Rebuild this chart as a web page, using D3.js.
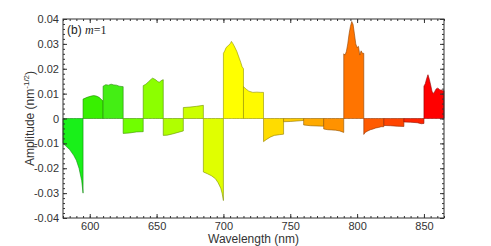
<!DOCTYPE html>
<html>
<head>
<meta charset="utf-8">
<script src="https://cdn.jsdelivr.net/npm/d3@7"></script>
<style>
  body { margin: 0; background: #fff; }
  svg { display: block; }
  .tick text { font-family: "Liberation Sans", Arial, sans-serif; font-size: 11px; fill: #333; }
  .tick line { stroke: #333; }
</style>
</head>
<body>
<svg id="chart" width="491" height="246"></svg>
<script>
'use strict';

// 15 nm wide bins, start wavelength of each one
var binStarts = [580, 595, 610, 625, 640, 655, 670, 685, 700, 715, 730, 745, 760, 775, 790, 805, 820, 835, 850];
var binWidth = 15;

var binColors = ["#19f019", "#38f000", "#44ee14", "#70ff00", "#8cff00", "#b0ff00", "#ccff00", "#e0ff00",
    "#ffff00", "#fffa00", "#ffdc00", "#ffcc00", "#ffaa00", "#ff9200", "#ff7400", "#ff5a00", "#ff4400", "#ff2200", "#ff0000"];

// amplitude samples inside each bin: [wavelength nm, amplitude]
var samples = [
    [[580, -0.0100], [582, -0.0110], [585, -0.0125], [588, -0.0148], [590, -0.0168], [592, -0.0200], [594, -0.0250], [595, -0.0300]],
    [[595, 0.0078], [598, 0.0085], [601, 0.0090], [603, 0.0092], [605, 0.0090], [607, 0.0085], [609, 0.0075], [610, 0.0070]],
    [[610, 0.0130], [612, 0.0136], [614, 0.0134], [616, 0.0138], [618, 0.0135], [620, 0.0134], [622, 0.0130], [625, 0.0128]],
    [[625, -0.0060], [630, -0.0058], [635, -0.0054], [640, -0.0053]],
    [[640, 0.0132], [642, 0.0138], [644, 0.0148], [646, 0.0158], [647, 0.0162], [649, 0.0157], [651, 0.0148], [652, 0.0146], [654, 0.0154], [655, 0.0156]],
    [[655, -0.0068], [658, -0.0067], [662, -0.0062], [666, -0.0056], [670, -0.0050]],
    [[670, 0.0044], [675, 0.0046], [680, 0.0049], [685, 0.0053]],
    [[685, -0.0215], [688, -0.0222], [691, -0.0230], [694, -0.0242], [696, -0.0258], [698, -0.0280], [699, -0.0300], [700, -0.0330]],
    [[700, 0.0262], [701, 0.0272], [702, 0.0285], [704, 0.0295], [705, 0.0300], [706, 0.0310], [707, 0.0302], [708, 0.0292], [710, 0.0270], [712, 0.0240], [713, 0.0225], [714, 0.0208], [715, 0.0200]],
    [[715, 0.0128], [717, 0.0118], [719, 0.0110], [722, 0.0105], [725, 0.0106], [728, 0.0105], [730, 0.0105]],
    [[730, -0.0093], [732, -0.0085], [735, -0.0075], [738, -0.0068], [742, -0.0065], [745, -0.0063]],
    [[745, -0.0013], [750, -0.0012], [755, -0.0010], [760, -0.0008]],
    [[760, -0.0026], [765, -0.0029], [770, -0.0030], [775, -0.0031]],
    [[775, -0.0042], [778, -0.0045], [781, -0.0046], [784, -0.0047], [787, -0.0050], [790, -0.0056]],
    [[790, 0.0260], [791, 0.0255], [792, 0.0270], [793, 0.0300], [794, 0.0340], [795, 0.0370], [796, 0.0390], [797, 0.0378], [798, 0.0340], [799, 0.0300], [800, 0.0285], [801, 0.0290], [802, 0.0255], [803, 0.0272], [804, 0.0262], [805, 0.0262]],
    [[805, -0.0064], [806, -0.0056], [808, -0.0050], [810, -0.0045], [812, -0.0042], [814, -0.0038], [816, -0.0036], [818, -0.0033], [820, -0.0033]],
    [[820, -0.0028], [825, -0.0029], [830, -0.0031], [835, -0.0032]],
    [[835, -0.0014], [840, -0.0015], [845, -0.0017], [848, -0.0021], [850, -0.0020]],
    [[850, 0.0130], [851, 0.0140], [852, 0.0160], [853, 0.0176], [854, 0.0158], [855, 0.0135], [856, 0.0110], [857, 0.0100], [858, 0.0108], [859, 0.0118], [860, 0.0122], [861, 0.0120], [862, 0.0114], [863, 0.0115], [864, 0.0112], [865, 0.0112]]
];

var xMajor = [600, 650, 700, 750, 800, 850];
var yMajor = [-0.04, -0.03, -0.02, -0.01, 0, 0.01, 0.02, 0.03, 0.04];

var svg = d3.select("#chart");

var padLeft = 63, padRight = 444, padTop = 19, padBottom = 218;

var x = d3.scaleLinear().domain([580, 865]).range([padLeft, padRight]);
var y = d3.scaleLinear().domain([-0.04, 0.04]).range([padBottom, padTop]);

var area = d3.area()
    .x(function (d) { return x(d[0]); })
    .y0(y(0))
    .y1(function (d) { return y(d[1]); });

svg.append("g")
    .attr("class", "bins")
    .selectAll("path")
    .data(samples)
    .enter().append("path")
    .attr("d", area)
    .attr("fill", function (d, i) { return binColors[i]; })
    .attr("stroke", function (d, i) { return d3.color(binColors[i]).darker(1.6); })
    .attr("stroke-width", 0.6)
    .attr("stroke-linejoin", "round");

var fmtY = function (d) { return d === 0 ? "0" : d.toFixed(2); };

var xMinor = d3.range(580, 866, 5);
var yMinor = d3.range(-40, 41, 2).map(function (v) { return v / 1000; });

// minor ticks, all four sides
svg.append("g").attr("transform", "translate(0," + padBottom + ")")
    .call(d3.axisBottom(x).tickValues(xMinor).tickFormat("").tickSize(-2));
svg.append("g").attr("transform", "translate(0," + padTop + ")")
    .call(d3.axisTop(x).tickValues(xMinor).tickFormat("").tickSize(-2));
svg.append("g").attr("transform", "translate(" + padLeft + ",0)")
    .call(d3.axisLeft(y).tickValues(yMinor).tickFormat("").tickSize(-2));
svg.append("g").attr("transform", "translate(" + padRight + ",0)")
    .call(d3.axisRight(y).tickValues(yMinor).tickFormat("").tickSize(-2));

// major ticks
svg.append("g").attr("transform", "translate(0," + padBottom + ")")
    .call(d3.axisBottom(x).tickValues(xMajor).tickSize(-4).tickPadding(4));
svg.append("g").attr("transform", "translate(0," + padTop + ")")
    .call(d3.axisTop(x).tickValues(xMajor).tickFormat("").tickSize(-4));
svg.append("g").attr("transform", "translate(" + padLeft + ",0)")
    .call(d3.axisLeft(y).tickValues(yMajor).tickFormat(fmtY).tickSize(-4).tickPadding(4));
svg.append("g").attr("transform", "translate(" + padRight + ",0)")
    .call(d3.axisRight(y).tickValues(yMajor).tickFormat("").tickSize(-4));

svg.selectAll(".domain").remove();

svg.append("rect")
    .attr("x", padLeft).attr("y", padTop)
    .attr("width", padRight - padLeft).attr("height", padBottom - padTop)
    .attr("fill", "none")
    .attr("stroke", "#333")
    .attr("stroke-width", 1);

svg.append("text")
    .attr("x", (padLeft + padRight) / 2)
    .attr("y", 243)
    .attr("text-anchor", "middle")
    .style("font-family", "Liberation Sans, Arial, sans-serif")
    .style("font-size", "12px")
    .style("fill", "#333")
    .text("Wavelength (nm)");

var ylab = svg.append("text")
    .attr("transform", "translate(34," + ((padTop + padBottom) / 2) + ") rotate(-90)")
    .attr("text-anchor", "middle")
    .style("font-family", "Liberation Sans, Arial, sans-serif")
    .style("font-size", "12px")
    .style("fill", "#333");
ylab.append("tspan").text("Amplitude (nm");
ylab.append("tspan").attr("dy", -5).style("font-size", "8px").text("-1/2");
ylab.append("tspan").attr("dy", 5).text(")");

var note = svg.append("text")
    .attr("x", 67)
    .attr("y", 34)
    .style("font-size", "12px")
    .style("fill", "#222");
note.append("tspan").style("font-family", "Liberation Sans, Arial, sans-serif").text("(b) ");
note.append("tspan").style("font-family", "Liberation Serif, Times New Roman, serif").style("font-style", "italic").text("m");
note.append("tspan").style("font-family", "Liberation Serif, Times New Roman, serif").text("=1");
</script>
</body>
</html>
